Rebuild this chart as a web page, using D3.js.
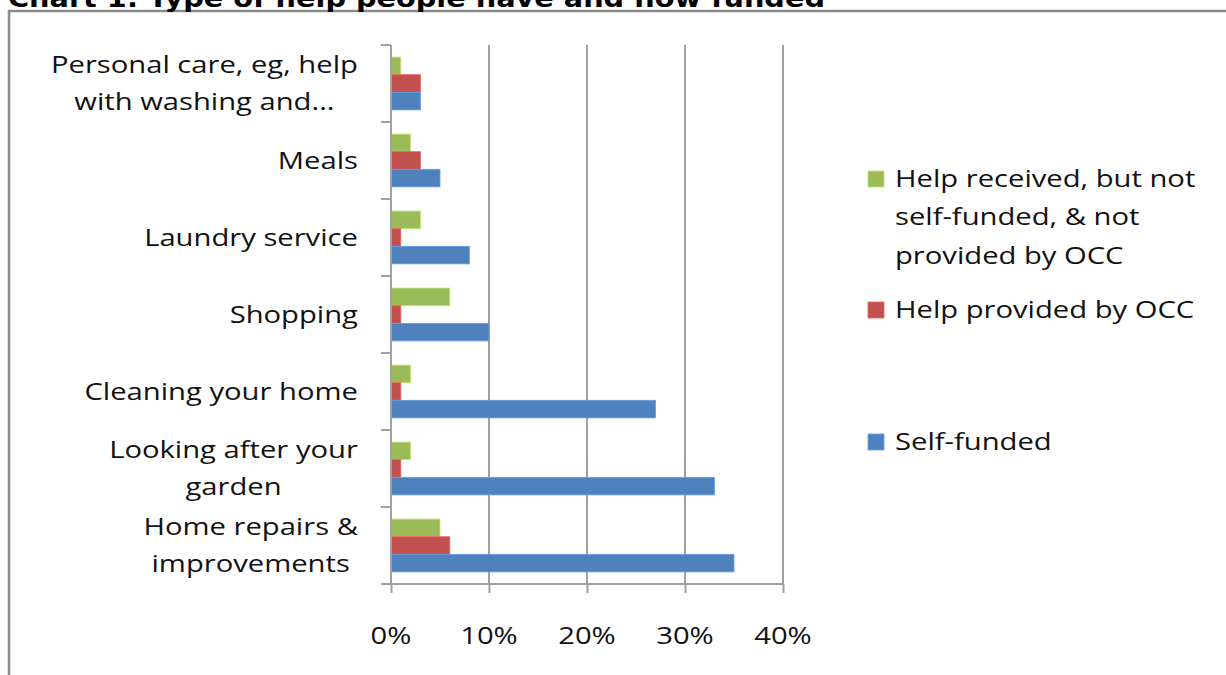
<!DOCTYPE html>
<html>
<head>
<meta charset="utf-8">
<script src="https://cdn.jsdelivr.net/npm/d3@7"></script>
<style>
  html, body { margin: 0; padding: 0; background: #fff; }
  svg { display: block; }
</style>
</head>
<body>
<svg id="chart" width="1226" height="675"></svg>
<script>
// ---- data ----
const title = "Chart 1: Type of help people have and how funded";
const categories = [
  "Personal care, eg, help with washing and...",
  "Meals",
  "Laundry service",
  "Shopping",
  "Cleaning your home",
  "Looking after your garden",
  "Home repairs & improvements"
];
const categoryLines = [
  ["Personal care, eg, help", "with washing and..."],
  ["Meals"],
  ["Laundry service"],
  ["Shopping"],
  ["Cleaning your home"],
  ["Looking after your", "garden"],
  ["Home repairs &", "improvements"]
];
const seriesNames = ["Help received, but not self-funded, & not provided by OCC", "Help provided by OCC", "Self-funded"];
const seriesLegendLines = [
  ["Help received, but not", "self-funded, & not", "provided by OCC"],
  ["Help provided by OCC"],
  ["Self-funded"]
];
const seriesColors = ["#9BBB59", "#C0504D", "#4F81BD"];
const notSelfFundedOther = [0.01, 0.02, 0.03, 0.06, 0.02, 0.02, 0.05];
const providedByOCC      = [0.03, 0.03, 0.01, 0.01, 0.01, 0.01, 0.06];
const selfFunded         = [0.03, 0.05, 0.08, 0.10, 0.27, 0.33, 0.35];
const seriesValues = [notSelfFundedOther, providedByOCC, selfFunded];
const xTicks = [0, 0.1, 0.2, 0.3, 0.4];

// ---- layout ----
const svg = d3.select("#chart");
const FONT = "'Open Sans', sans-serif";
const FS = 23;
const SX = 1.27; // horizontal stretch of text
const TEXT_COLOR = "#111";
const plot = { left: 391, right: 783, top: 45, bottom: 584 };
const gridColor = "#a0a0a0";

// frame
svg.append("path")
  .attr("d", "M9,675 V11 H1226")
  .attr("fill", "none").attr("stroke", "#8c8c8c").attr("stroke-width", 2.5);

// title (partially cut off at the top, as in the reference)
svg.append("text")
  .attr("x", 8).attr("y", 7)
  .attr("font-family", "'DejaVu Sans', sans-serif")
  .attr("font-weight", "bold").attr("font-size", 25)
  .attr("textLength", 817).attr("lengthAdjust", "spacingAndGlyphs")
  .attr("fill", "#000")
  .text(title);

const x = d3.scaleLinear().domain([0, 0.4]).range([plot.left, plot.right]);
const y = d3.scaleBand().domain(categories).range([plot.top, plot.bottom])
  .paddingInner(0.314).paddingOuter(0.157);
const ySub = d3.scaleBand().domain(d3.range(seriesNames.length)).range([0, y.bandwidth()]);

// gridlines
svg.append("g").selectAll("line").data(xTicks.slice(1)).join("line")
  .attr("x1", d => x(d)).attr("x2", d => x(d))
  .attr("y1", plot.top).attr("y2", plot.bottom)
  .attr("stroke", gridColor).attr("stroke-width", 2);

// bars
const groups = svg.append("g").selectAll("g").data(categories).join("g")
  .attr("transform", d => `translate(0,${y(d)})`);
groups.selectAll("rect")
  .data((d, i) => seriesValues.map((vals, s) => ({ s, v: vals[i] })))
  .join("rect")
  .attr("x", x(0))
  .attr("y", d => ySub(d.s))
  .attr("width", d => x(d.v) - x(0))
  .attr("height", ySub.bandwidth())
  .attr("fill", d => seriesColors[d.s])
  .attr("stroke", d => d3.color(seriesColors[d.s]).brighter(0.6))
  .attr("stroke-width", 0.8);

// y axis: line and ticks at band boundaries
const yStep = (plot.bottom - plot.top) / categories.length;
const yBoundaries = d3.range(categories.length + 1).map(i => plot.top + i * yStep);
svg.append("line")
  .attr("x1", plot.left).attr("x2", plot.left)
  .attr("y1", plot.top).attr("y2", plot.bottom)
  .attr("stroke", gridColor).attr("stroke-width", 2);
svg.append("g").selectAll("line").data(yBoundaries).join("line")
  .attr("x1", plot.left - 10).attr("x2", plot.left)
  .attr("y1", d => d).attr("y2", d => d)
  .attr("stroke", gridColor).attr("stroke-width", 2);

// x axis
const xAxis = d3.axisBottom(x).tickValues(xTicks).tickFormat(d3.format(".0%"))
  .tickSize(9).tickPadding(0);
const xg = svg.append("g").attr("transform", `translate(0,${plot.bottom})`).call(xAxis);
xg.select(".domain").remove();
xg.selectAll(".tick line").attr("stroke", gridColor).attr("stroke-width", 2);
xg.selectAll(".tick text").remove();
svg.append("line")
  .attr("x1", plot.left - 10).attr("x2", plot.right)
  .attr("y1", plot.bottom).attr("y2", plot.bottom)
  .attr("stroke", gridColor).attr("stroke-width", 2);
svg.append("g").selectAll("text").data(xTicks).join("text")
  .attr("transform", d => `translate(${x(d)},644) scale(${SX},1)`)
  .attr("text-anchor", "middle")
  .attr("font-family", FONT).attr("font-size", FS).attr("fill", TEXT_COLOR)
  .text(d3.format(".0%"));

// category labels (block right-aligned, lines centered)
const labelRight = 358;
const lineH = 37;
categoryLines.forEach((lines, i) => {
  const cy = y(categories[i]) + y.bandwidth() / 2;
  const g = svg.append("g");
  const texts = lines.map(ln => g.append("text")
    .attr("font-family", FONT).attr("font-size", FS).attr("fill", TEXT_COLOR)
    .attr("text-anchor", "middle")
    .text(ln));
  const widths = texts.map(t => t.node().getComputedTextLength() * SX);
  const maxW = d3.max(widths);
  const cx = labelRight - maxW / 2;
  const n = lines.length;
  texts.forEach((t, j) => {
    const baseline = cy + (j - (n - 1) / 2) * lineH + 8;
    t.attr("transform", `translate(${cx},${baseline}) scale(${SX},1)`);
  });
});

// legend
const legendBaselines = [[187, 225, 264], [318], [450]];
seriesLegendLines.forEach((lines, s) => {
  const b0 = legendBaselines[s][0];
  svg.append("rect")
    .attr("x", 868).attr("y", b0 - 16).attr("width", 16).attr("height", 16)
    .attr("fill", seriesColors[s])
    .attr("stroke", d3.color(seriesColors[s]).brighter(0.6)).attr("stroke-width", 0.8);
  lines.forEach((ln, j) => {
    svg.append("text")
      .attr("transform", `translate(895,${legendBaselines[s][j]}) scale(${SX},1)`)
      .attr("font-family", FONT).attr("font-size", FS).attr("fill", TEXT_COLOR)
      .text(ln);
  });
});
</script>
</body>
</html>
